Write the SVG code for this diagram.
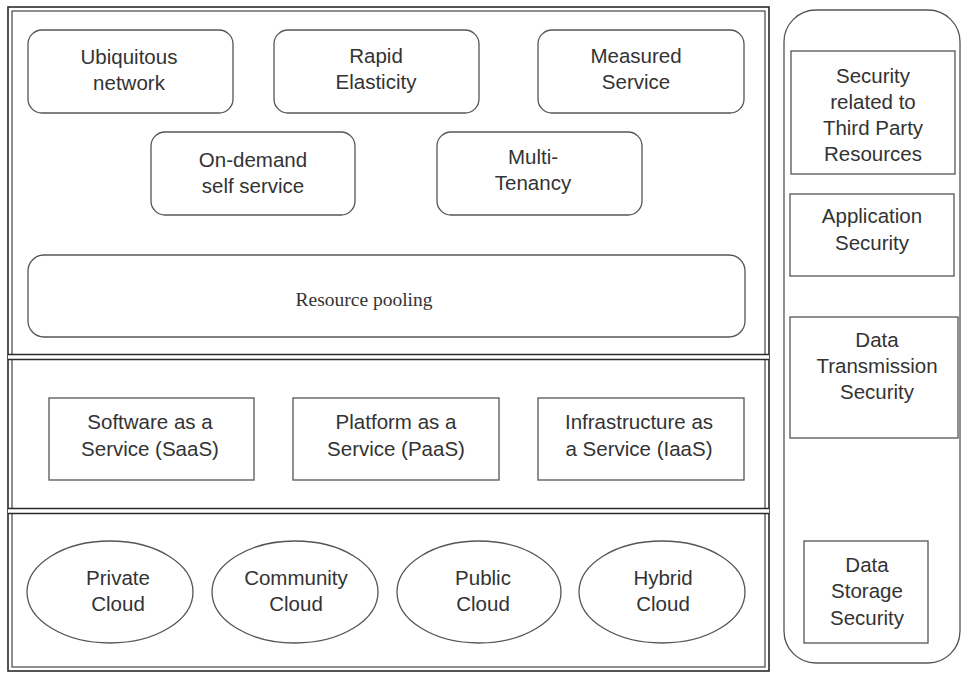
<svg xmlns="http://www.w3.org/2000/svg" width="962" height="673" viewBox="0 0 962 673">
<style>
.frame{fill:none;stroke:#2a2a2a;stroke-width:1.6}
.frame2{fill:none;stroke:#444;stroke-width:1.2}
.rb{fill:#fff;stroke:#555;stroke-width:1.3}
.t{font-family:"Liberation Sans",Arial,sans-serif;font-size:20.5px;fill:#333;text-anchor:middle}
.ts{font-family:"Liberation Serif","Times New Roman",serif;font-size:19.5px;fill:#333;text-anchor:middle}
</style>
<rect width="962" height="673" fill="#fff"/>

<g id="layer-frame">
  <rect class="frame" x="8" y="7" width="761" height="664"/>
  <rect class="frame2" x="12" y="11" width="753" height="656"/>
  <rect x="8" y="354" width="761" height="6" fill="#fff"/>
  <line class="frame" x1="8" y1="354.5" x2="769" y2="354.5"/>
  <line class="frame" x1="8" y1="359.5" x2="769" y2="359.5"/>
  <rect x="8" y="508" width="761" height="6" fill="#fff"/>
  <line class="frame" x1="8" y1="508.5" x2="769" y2="508.5"/>
  <line class="frame" x1="8" y1="513.5" x2="769" y2="513.5"/>
</g>

<g id="security-panel">
  <rect x="784" y="10" width="176" height="653" rx="32" ry="32" fill="none" stroke="#555" stroke-width="1.3"/>
</g>

<g id="connectors"></g>

<g id="ubiquitous-network">
  <rect class="rb" x="28" y="30" width="205" height="83" rx="14"/>
  <text class="t" x="129" y="64">Ubiquitous</text>
  <text class="t" x="129" y="90">network</text>
</g>
<g id="rapid-elasticity">
  <rect class="rb" x="274" y="30" width="205" height="83" rx="14"/>
  <text class="t" x="376" y="63">Rapid</text>
  <text class="t" x="376" y="89">Elasticity</text>
</g>
<g id="measured-service">
  <rect class="rb" x="538" y="30" width="206" height="83" rx="14"/>
  <text class="t" x="636" y="63">Measured</text>
  <text class="t" x="636" y="89">Service</text>
</g>
<g id="on-demand">
  <rect class="rb" x="151" y="132" width="204" height="83" rx="14"/>
  <text class="t" x="253" y="167">On-demand</text>
  <text class="t" x="253" y="193">self service</text>
</g>
<g id="multi-tenancy">
  <rect class="rb" x="437" y="132" width="205" height="83" rx="14"/>
  <text class="t" x="533" y="164">Multi-</text>
  <text class="t" x="533" y="190">Tenancy</text>
</g>
<g id="resource-pooling">
  <rect class="rb" x="28" y="255" width="717" height="82" rx="16"/>
  <text class="ts" x="364" y="306">Resource pooling</text>
</g>

<g id="saas">
  <rect class="rb" x="49" y="398" width="205" height="82"/>
  <text class="t" x="150" y="429">Software as a</text>
  <text class="t" x="150" y="456">Service (SaaS)</text>
</g>
<g id="paas">
  <rect class="rb" x="293" y="398" width="206" height="82"/>
  <text class="t" x="396" y="429">Platform as a</text>
  <text class="t" x="396" y="456">Service (PaaS)</text>
</g>
<g id="iaas">
  <rect class="rb" x="538" y="398" width="206" height="82"/>
  <text class="t" x="639" y="429">Infrastructure as</text>
  <text class="t" x="639" y="456">a Service (IaaS)</text>
</g>

<g id="private-cloud">
  <ellipse class="rb" cx="110" cy="592" rx="83" ry="51"/>
  <text class="t" x="118" y="585">Private</text>
  <text class="t" x="118" y="611">Cloud</text>
</g>
<g id="community-cloud">
  <ellipse class="rb" cx="295" cy="592" rx="83" ry="51"/>
  <text class="t" x="296" y="585">Community</text>
  <text class="t" x="296" y="611">Cloud</text>
</g>
<g id="public-cloud">
  <ellipse class="rb" cx="479" cy="592" rx="82" ry="51"/>
  <text class="t" x="483" y="585">Public</text>
  <text class="t" x="483" y="611">Cloud</text>
</g>
<g id="hybrid-cloud">
  <ellipse class="rb" cx="662" cy="592" rx="83" ry="51"/>
  <text class="t" x="663" y="585">Hybrid</text>
  <text class="t" x="663" y="611">Cloud</text>
</g>

<g id="third-party-security">
  <rect class="rb" x="791" y="51" width="164" height="123"/>
  <text class="t" x="873" y="83">Security</text>
  <text class="t" x="873" y="109">related to</text>
  <text class="t" x="873" y="135">Third Party</text>
  <text class="t" x="873" y="161">Resources</text>
</g>
<g id="application-security">
  <rect class="rb" x="790" y="194" width="164" height="82"/>
  <text class="t" x="872" y="223">Application</text>
  <text class="t" x="872" y="250">Security</text>
</g>
<g id="data-transmission-security">
  <rect class="rb" x="790" y="317" width="168" height="121"/>
  <text class="t" x="877" y="347">Data</text>
  <text class="t" x="877" y="373">Transmission</text>
  <text class="t" x="877" y="399">Security</text>
</g>
<g id="data-storage-security">
  <rect class="rb" x="804" y="541" width="124" height="102"/>
  <text class="t" x="867" y="572">Data</text>
  <text class="t" x="867" y="598">Storage</text>
  <text class="t" x="867" y="625">Security</text>
</g>
</svg>
